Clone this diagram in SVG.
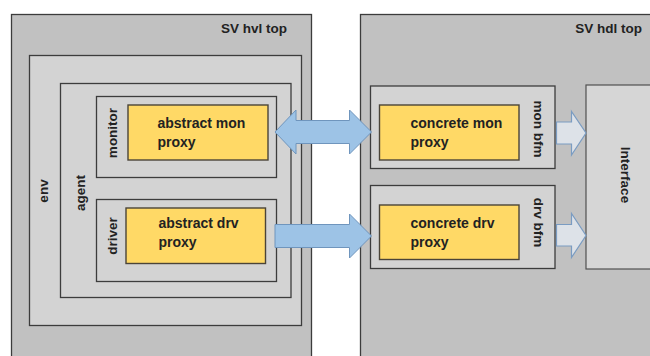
<svg xmlns="http://www.w3.org/2000/svg" width="650" height="356" viewBox="0 0 650 356">
  <style>
    .top { fill: #c1c1c1; stroke: #3c3c3c; stroke-width: 1.3; }
    .box { fill: #d3d3d3; stroke: #3c3c3c; stroke-width: 1.3; }
    .iface { fill: #d6d6d6; stroke: #505050; stroke-width: 1.2; }
    .proxy { fill: #ffd966; stroke: #4a4438; stroke-width: 1.4; }
    .fat { fill: #9dc3e6; stroke: #6f95bd; stroke-width: 1; }
    .hollow { fill: #dde2e8; stroke: #7a9cc2; stroke-width: 1.2; }
    text { font-family: "Liberation Sans", Arial, sans-serif; font-weight: bold; fill: #222222; }
    .t13 { font-size: 13.5px; }
    .t14 { font-size: 14px; }
    .v { font-size: 13.5px; text-anchor: middle; dominant-baseline: central; }
  </style>
  <rect width="650" height="356" fill="#ffffff"/>

  <g id="hvl-top">
    <rect class="top" x="11.5" y="14.5" width="300" height="360"/>
    <text class="t13" x="287" y="33" text-anchor="end">SV hvl top</text>
  </g>
  <g id="env">
    <rect class="box" x="29.5" y="55.5" width="272" height="270"/>
    <text class="v" transform="translate(43,191) rotate(-90)">env</text>
  </g>
  <g id="agent">
    <rect class="box" x="60.5" y="83.5" width="230.5" height="214"/>
    <text class="v" transform="translate(80,193) rotate(-90)">agent</text>
  </g>
  <g id="monitor">
    <rect class="box" x="96.5" y="96.5" width="180" height="81"/>
    <text class="v" transform="translate(112,133) rotate(-90)">monitor</text>
  </g>
  <g id="abstract-mon-proxy">
    <rect class="proxy" x="128" y="105" width="140" height="55"/>
    <text class="t14" x="157.5" y="128">abstract mon</text>
    <text class="t14" x="157.5" y="147">proxy</text>
  </g>
  <g id="driver">
    <rect class="box" x="96.5" y="199.5" width="180" height="82"/>
    <text class="v" transform="translate(112,236) rotate(-90)">driver</text>
  </g>
  <g id="abstract-drv-proxy">
    <rect class="proxy" x="126" y="208" width="139.5" height="55.5"/>
    <text class="t14" x="158.5" y="228">abstract drv</text>
    <text class="t14" x="158.5" y="247">proxy</text>
  </g>

  <g id="hdl-top">
    <rect class="top" x="360.5" y="14.5" width="300" height="360"/>
    <text class="t13" x="642" y="33" text-anchor="end">SV hdl top</text>
  </g>
  <g id="mon-bfm">
    <rect class="box" x="370.5" y="86" width="184.5" height="82.5"/>
    <text class="v" transform="translate(538,129) rotate(90)">mon bfm</text>
  </g>
  <g id="concrete-mon-proxy">
    <rect class="proxy" x="379.5" y="105" width="139.5" height="55"/>
    <text class="t14" x="410.5" y="128">concrete mon</text>
    <text class="t14" x="410.5" y="147">proxy</text>
  </g>
  <g id="drv-bfm">
    <rect class="box" x="370.5" y="185.5" width="184.5" height="83"/>
    <text class="v" transform="translate(538,222.5) rotate(90)">drv bfm</text>
  </g>
  <g id="concrete-drv-proxy">
    <rect class="proxy" x="379.5" y="205" width="139.5" height="54.5"/>
    <text class="t14" x="410.5" y="228">concrete drv</text>
    <text class="t14" x="410.5" y="247">proxy</text>
  </g>
  <g id="interface">
    <rect class="iface" x="586" y="85" width="80" height="184"/>
    <text class="v" transform="translate(625,175) rotate(90)">Interface</text>
  </g>

  <g id="connectors">
    <!-- monitor proxy link (both ways) -->
    <polygon class="fat" points="275,132 296,110 296,120.5 349.5,120.5 349.5,110 371.5,132 349.5,154 349.5,143.5 296,143.5 296,154"/>
    <!-- driver proxy link -->
    <polygon class="fat" points="275,224.5 349.5,224.5 349.5,214 371.5,236 349.5,258 349.5,247.5 275,247.5"/>
    <!-- bfm to interface -->
    <polygon class="hollow" points="556.5,122 571.5,122 571.5,111.5 586,133 571.5,155 571.5,144 556.5,144"/>
    <polygon class="hollow" points="556.5,224.5 571.5,224.5 571.5,213.5 586,235.5 571.5,257.5 571.5,246 556.5,246"/>
  </g>
</svg>
